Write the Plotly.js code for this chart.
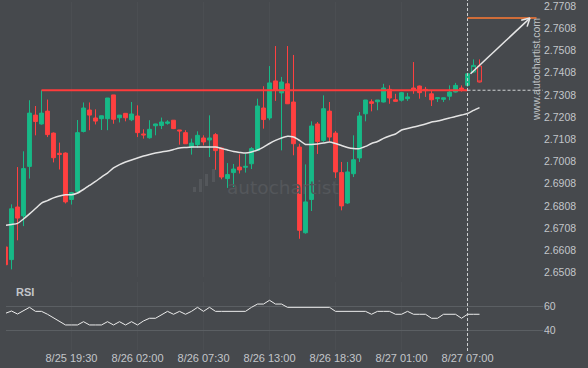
<!DOCTYPE html>
<html><head><meta charset="utf-8">
<script src="https://cdn.plot.ly/plotly-3.0.1.min.js"></script>
<style>html,body{margin:0;padding:0;background:#46494d;}#chart{width:588px;height:368px;}</style>
</head><body><div id="chart"></div>
<script>
// ---- data ----
const tickIdx = [11, 22, 33, 44, 55, 66, 77];
const tickLabels = ['8/25 19:30','8/26 02:00','8/26 07:30','8/26 13:00','8/26 18:30','8/27 01:00','8/27 07:00'];
const priceTicks = [2.6508,2.6608,2.6708,2.6808,2.6908,2.7008,2.7108,2.7208,2.7308,2.7408,2.7508,2.7608,2.7708];
const rsiTicks = [40, 60];

const openP = [2.6623,2.6566,2.6803,2.6763,2.6986,2.7217,2.7177,2.7235,2.7136,2.7045,
2.7046,2.6837,2.6874,2.7143,2.7240,2.7204,2.7201,2.7201,2.7308,2.7205,
2.7225,2.7196,2.7213,2.7132,2.7115,2.7169,2.7170,2.7180,2.7194,2.7150,
2.7138,2.7073,2.7084,2.7114,2.7105,2.7129,2.7069,2.6931,2.6958,2.6983,
2.6982,2.6998,2.7058,2.7249,2.7204,2.7371,2.7317,2.7358,2.7276,2.7073,
2.6687,2.6837,2.7177,2.7103,2.7235,2.7136,2.6958,2.6821,2.6953,2.7024,
2.7223,2.7277,2.7277,2.7276,2.7333,2.7286,2.7284,2.7291,2.7339,2.7348,
2.7333,2.7313,2.7291,2.7288,2.7302,2.7321,2.7339,2.7351,2.7411,2.7438];
const highP = [2.6627,2.6815,2.6983,2.7054,2.7284,2.7258,2.7329,2.7287,2.7139,2.7093,
2.7049,2.6871,2.7195,2.7274,2.7274,2.7243,2.7215,2.7294,2.7308,2.7217,
2.7226,2.7276,2.7261,2.7153,2.7194,2.7178,2.7206,2.7194,2.7195,2.7150,
2.7149,2.7111,2.7144,2.7126,2.7216,2.7136,2.7069,2.7001,2.6997,2.7040,
2.7043,2.7073,2.7291,2.7347,2.7438,2.7528,2.7389,2.7528,2.7488,2.7088,
2.6995,2.7189,2.7186,2.7306,2.7276,2.7145,2.7006,2.7006,2.7126,2.7231,
2.7285,2.7288,2.7285,2.7358,2.7351,2.7313,2.7321,2.7317,2.7456,2.7350,
2.7344,2.7329,2.7296,2.7296,2.7351,2.7362,2.7351,2.7407,2.7468,2.7468];
const lowP = [2.6540,2.6522,2.6653,2.6717,2.6931,2.7126,2.7174,2.7118,2.7004,2.6972,
2.6819,2.6814,2.6863,2.7139,2.7149,2.7175,2.7150,2.7149,2.7178,2.7184,
2.7189,2.7190,2.7118,2.7111,2.7111,2.7126,2.7154,2.7174,2.7154,2.7084,
2.7087,2.7039,2.7069,2.7081,2.7028,2.6971,2.6928,2.6889,2.6893,2.6954,
2.6958,2.6974,2.7055,2.7156,2.7194,2.7281,2.7058,2.7267,2.7036,2.6660,
2.6683,2.6785,2.7042,2.7096,2.7096,2.6934,2.6788,2.6817,2.6938,2.7006,
2.7189,2.7234,2.7239,2.7274,2.7268,2.7278,2.7278,2.7281,2.7313,2.7291,
2.7299,2.7258,2.7276,2.7276,2.7284,2.7319,2.7323,2.7344,2.7409,2.7364];
const closeP = [2.6543,2.6795,2.6753,2.6976,2.7226,2.7188,2.7226,2.7129,2.7025,2.7040,
2.6826,2.6868,2.7138,2.7249,2.7217,2.7190,2.7214,2.7294,2.7198,2.7217,
2.7205,2.7222,2.7138,2.7128,2.7153,2.7177,2.7186,2.7186,2.7156,2.7146,
2.7088,2.7091,2.7126,2.7096,2.7114,2.7057,2.6938,2.6949,2.6974,2.6970,
2.6986,2.7066,2.7258,2.7197,2.7362,2.7329,2.7366,2.7268,2.7088,2.6698,
2.6826,2.7168,2.7098,2.7246,2.7118,2.6961,2.6808,2.6961,2.7016,2.7213,
2.7285,2.7270,2.7285,2.7339,2.7294,2.7279,2.7318,2.7299,2.7331,2.7318,
2.7327,2.7286,2.7295,2.7295,2.7321,2.7351,2.7333,2.7403,2.7441,2.7366];
const maP = [2.6720,2.6724,2.6729,2.6749,2.6772,2.6796,2.6821,2.6832,2.6844,2.6853,
2.6858,2.6858,2.6866,2.6882,2.6900,2.6918,2.6938,2.6956,2.6979,2.6994,
2.7006,2.7015,2.7024,2.7033,2.7040,2.7046,2.7051,2.7055,2.7062,2.7069,
2.7071,2.7073,2.7073,2.7073,2.7073,2.7073,2.7067,2.7060,2.7053,2.7049,
2.7046,2.7051,2.7060,2.7073,2.7089,2.7103,2.7114,2.7122,2.7118,2.7103,
2.7085,2.7085,2.7087,2.7091,2.7096,2.7089,2.7080,2.7071,2.7066,2.7066,
2.7076,2.7089,2.7098,2.7112,2.7123,2.7132,2.7150,2.7157,2.7163,2.7170,
2.7177,2.7186,2.7190,2.7197,2.7204,2.7211,2.7217,2.7224,2.7238,2.7251];
const rsiV = [54.0,55.9,53.4,56.2,58.9,55.6,55.6,53.2,50.4,47.7,
44.4,44.4,44.4,47.1,44.4,44.4,44.4,47.1,44.4,47.1,
44.4,47.1,44.4,47.7,49.9,49.9,52.9,55.6,53.2,55.6,
53.2,55.6,58.9,55.6,58.9,55.6,55.6,55.6,55.6,55.6,
55.6,58.9,61.6,61.6,64.7,61.6,61.6,58.9,58.9,58.9,
58.9,58.9,58.9,58.9,58.9,55.6,55.6,55.6,55.6,55.6,
55.6,53.2,55.6,55.6,55.6,53.2,53.2,55.6,53.2,53.2,
53.2,49.9,49.9,53.2,53.2,53.2,49.9,53.2,53.2,53.2];
const confirmedCount = 78;          // candles 78, 79 are drawn hollow
const signalIdx = 77;
const resistanceLevel = 2.7329, resistanceFrom = 6, resistanceTo = 77;
const targetLevel = 2.7654, targetFrom = 77, targetTo = 88.5;
const arrowFrom = [77.5, 2.7403], arrowTo = [87.4, 2.7654];

// ---- layout geometry ----
const W = 588, H = 368;
const pxX0 = 6, pxX1 = 543;
const xRange = [0.083, 89.58];
const mainTop = 2, mainBot = 277, rsiTop = 282, rsiBot = 350;
const yRange = [2.64877, 2.77265];
const rsiRange = [23.8, 79.75];
const BG = '#46494d', GREEN = '#17b987', RED = '#ff4040';
const TXT = '#c3c6ca';
const FONT = 'Liberation Sans, Arial, sans-serif';

const idx = closeP.map((_, i) => i);
const sl = (a, s, e) => a.slice(s, e);

const traces = [
  { type: 'candlestick', x: sl(idx, 0, confirmedCount), open: sl(openP, 0, confirmedCount),
    high: sl(highP, 0, confirmedCount), low: sl(lowP, 0, confirmedCount), close: sl(closeP, 0, confirmedCount),
    increasing: { line: { color: GREEN, width: 1 }, fillcolor: GREEN },
    decreasing: { line: { color: RED, width: 1 }, fillcolor: RED },
    xaxis: 'x', yaxis: 'y', hoverinfo: 'skip', showlegend: false },
  { type: 'candlestick', x: sl(idx, confirmedCount), open: sl(openP, confirmedCount),
    high: sl(highP, confirmedCount), low: sl(lowP, confirmedCount), close: sl(closeP, confirmedCount),
    increasing: { line: { color: GREEN, width: 1 }, fillcolor: 'rgba(0,0,0,0)' },
    decreasing: { line: { color: RED, width: 1 }, fillcolor: 'rgba(0,0,0,0)' },
    xaxis: 'x', yaxis: 'y', hoverinfo: 'skip', showlegend: false },
  { type: 'scatter', mode: 'lines', x: idx, y: maP, line: { color: '#e4e4e4', width: 1.5, shape: 'spline', smoothing: 0.6 },
    xaxis: 'x', yaxis: 'y', hoverinfo: 'skip', showlegend: false },
  { type: 'scatter', mode: 'lines', x: idx, y: rsiV, line: { color: '#ececec', width: 1 },
    xaxis: 'x', yaxis: 'y2', hoverinfo: 'skip', showlegend: false }
];

// arrow head in pixel space
const sx = (pxX1 - pxX0) / (xRange[1] - xRange[0]);
const sy = (mainBot - mainTop) / (yRange[1] - yRange[0]);
const ang = Math.atan2(-(arrowTo[1] - arrowFrom[1]) * sy, (arrowTo[0] - arrowFrom[0]) * sx);
const L = 9, A = 0.5;
const arm = s => [arrowTo[0] - L * Math.cos(ang + s * A) / sx, arrowTo[1] + L * Math.sin(ang + s * A) / sy];
const a1 = arm(1), a2 = arm(-1);

const shapes = [
  { type: 'line', xref: 'x', yref: 'y', x0: resistanceFrom, x1: resistanceTo, y0: resistanceLevel, y1: resistanceLevel,
    line: { color: '#ff3b3b', width: 2.2 } },
  { type: 'line', xref: 'x', yref: 'y', x0: signalIdx, x1: xRange[1], y0: resistanceLevel, y1: resistanceLevel,
    line: { color: '#cfd1d3', width: 1, dash: '3px,2px' } },
  { type: 'line', xref: 'x', yref: 'paper', x0: signalIdx, x1: signalIdx, y0: 1 - 351 / H, y1: 1,
    line: { color: '#cfd1d3', width: 1, dash: '3px,2px' } },
  { type: 'line', xref: 'x', yref: 'y', x0: targetFrom, x1: targetTo, y0: targetLevel, y1: targetLevel,
    line: { color: '#ff7a33', width: 1.5 } },
  { type: 'line', xref: 'x', yref: 'y', x0: arrowFrom[0], y0: arrowFrom[1], x1: arrowTo[0], y1: arrowTo[1],
    line: { color: '#e6e6e6', width: 1.5 } },
  { type: 'line', xref: 'x', yref: 'y', x0: a1[0], y0: a1[1], x1: arrowTo[0], y1: arrowTo[1], line: { color: '#e6e6e6', width: 1.5 } },
  { type: 'line', xref: 'x', yref: 'y', x0: a2[0], y0: a2[1], x1: arrowTo[0], y1: arrowTo[1], line: { color: '#e6e6e6', width: 1.5 } }
];
// watermark icon bars (paper px)
[[193,196,187,192],[199,202,179,192],[205,208,174,186],[212,215,169,182]].forEach(b => {
  shapes.push({ type: 'rect', xref: 'paper', yref: 'paper', layer: 'below',
    x0: b[0] / W, x1: b[1] / W, y0: 1 - b[3] / H, y1: 1 - b[2] / H,
    fillcolor: '#54575b', line: { width: 0 } });
});

const annotations = [
  { xref: 'paper', yref: 'paper', x: 283 / W, y: 1 - 187 / H, xanchor: 'center', yanchor: 'middle', text: 'autochartist', showarrow: false,
    font: { family: 'DejaVu Sans, sans-serif', size: 18.5, color: '#54575b' } },
  { xref: 'paper', yref: 'paper', x: 536 / W, y: 1 - 70 / H, xanchor: 'center', yanchor: 'middle', text: 'www.autochartist.com', textangle: -90, showarrow: false,
    font: { family: FONT, size: 10.5, color: '#bfc2c5' } },
  { xref: 'paper', yref: 'paper', x: 14 / W, y: 1 - 291.5 / H, xanchor: 'left', yanchor: 'middle', text: '<b>RSI</b>', showarrow: false,
    font: { family: FONT, size: 11, color: TXT } }
];

const layout = {
  width: W, height: H, margin: { l: 0, r: 0, t: 0, b: 0 },
  paper_bgcolor: BG, plot_bgcolor: BG, showlegend: false, hovermode: false,
  boxgap: 0.2, boxgroupgap: 0.2,
  xaxis: { domain: [pxX0 / W, pxX1 / W], range: xRange, anchor: 'y2', tickmode: 'array', tickvals: tickIdx, ticktext: tickLabels,
    showgrid: true, gridcolor: '#4b4e52', gridwidth: 1, zeroline: false, showline: false, ticks: '',
    tickfont: { family: FONT, size: 11, color: TXT }, rangeslider: { visible: false }, fixedrange: true },
  yaxis: { domain: [1 - mainBot / H, 1 - mainTop / H], range: yRange, side: 'right', anchor: 'x', tickmode: 'array',
    tickvals: priceTicks, ticktext: priceTicks.map(v => v.toFixed(4)), showgrid: false, zeroline: false, ticks: '',
    ticklabeloverflow: 'allow', tickfont: { family: FONT, size: 10.5, color: TXT } },
  yaxis2: { domain: [1 - rsiBot / H, 1 - rsiTop / H], range: rsiRange, side: 'right', anchor: 'x', tickmode: 'array',
    tickvals: rsiTicks, ticktext: rsiTicks.map(String), showgrid: true, gridcolor: '#5b5f63', gridwidth: 1,
    zeroline: false, ticks: '', tickfont: { family: FONT, size: 10.5, color: TXT } },
  shapes: shapes, annotations: annotations
};

Plotly.newPlot('chart', traces, layout, { displayModeBar: false, staticPlot: true });
</script>
</body></html>
